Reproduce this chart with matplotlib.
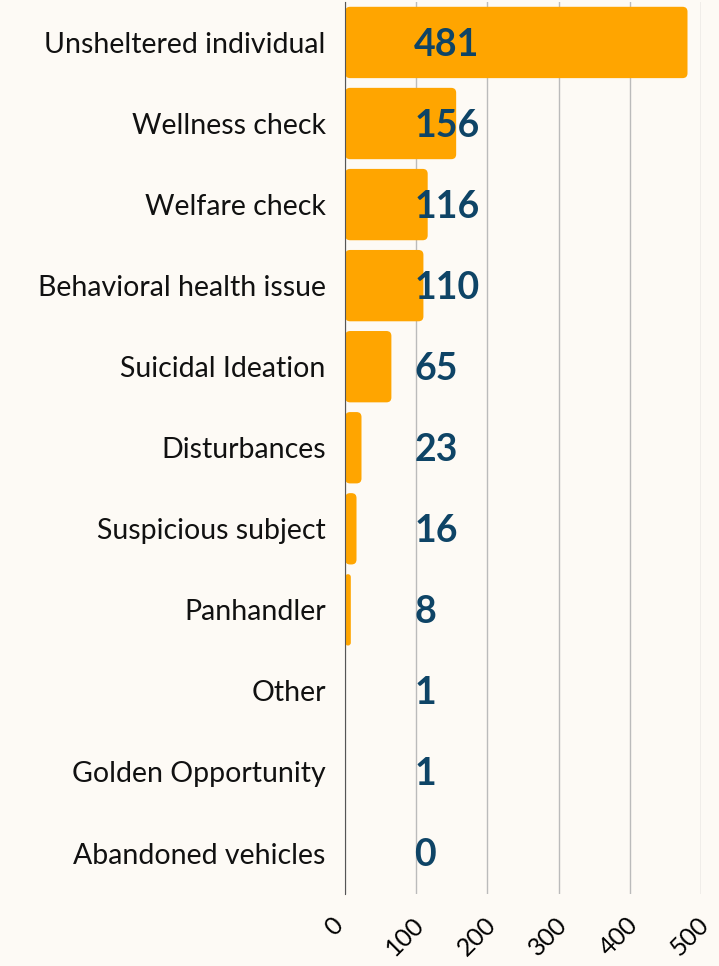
import matplotlib.pyplot as plt
from matplotlib.patches import FancyBboxPatch
from matplotlib.transforms import ScaledTranslation

categories = ["Unsheltered individual", "Wellness check", "Welfare check",
              "Behavioral health issue", "Suicidal Ideation", "Disturbances",
              "Suspicious subject", "Panhandler", "Other",
              "Golden Opportunity", "Abandoned vehicles"]
counts = [481, 156, 116, 110, 65, 23, 16, 8, 1, 1, 0]
ticks = [0, 100, 200, 300, 400, 500]

bg = "#FDFAF5"
fig = plt.figure(figsize=(7.19, 9.66), dpi=100, facecolor=bg)
ax = fig.add_axes([0.48, 0.075, 0.495, 0.923], facecolor=bg)

pos = list(range(len(categories)))
h = 0.88
# rounded bars: ~5px radius, x unit ~0.712px, y unit ~81px
for p, c in zip(pos, counts):
    if c <= 0:
        continue
    r = min(7.0, c / 2.0)
    box = FancyBboxPatch((0, p - h / 2), c, h,
                         boxstyle=f"round,pad=0,rounding_size={r}",
                         mutation_aspect=0.0087, facecolor="#FFA500",
                         edgecolor="none", zorder=2)
    ax.add_patch(box)
for p, c in zip(pos, counts):
    ax.text(97, p + 0.03, str(c), va="center", ha="left", fontsize=27,
            fontweight="bold", color="#0E4466", family="Lato", zorder=3)

ax.set_yticks(pos)
ax.set_yticklabels(categories, fontsize=20.5, family="Lato", color="#111111")
ax.set_ylim(10.5, -0.5)
ax.set_xlim(0, 500)
ax.set_xticks(ticks)
ax.set_xticklabels([str(t) for t in ticks], rotation=45, fontsize=18,
                   family="Lato", ha="center", va="top")
ax.tick_params(length=0, pad=14)
ax.tick_params(axis="y", pad=14)
# nudge rotated tick labels a bit to the left, like the original
shift = ScaledTranslation(-0.11, 0, fig.dpi_scale_trans)
for lab in ax.get_xticklabels():
    lab.set_transform(lab.get_transform() + shift)
ax.grid(axis="x", color="#BBBBBB", linewidth=1, zorder=0)
for s in ["top", "right", "bottom"]:
    ax.spines[s].set_visible(False)
ax.spines["left"].set_color("#555555")

fig.savefig("out.png", dpi=100, facecolor=bg)
